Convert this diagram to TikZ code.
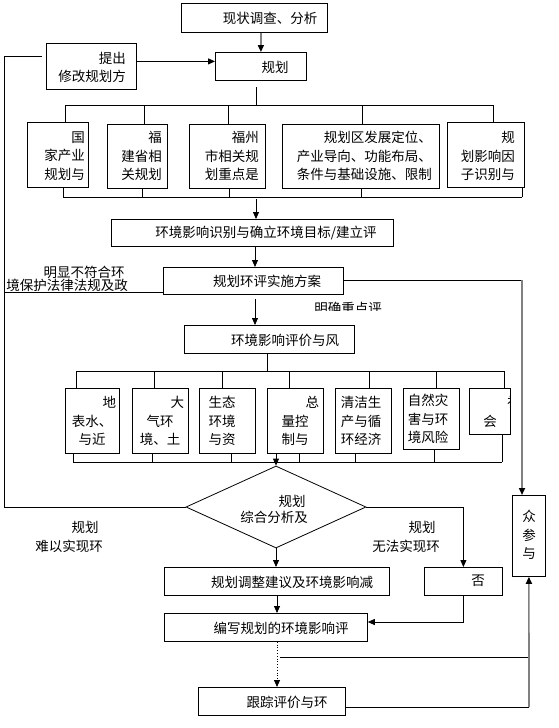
\documentclass[tikz,border=0pt]{standalone}
\usepackage{fontspec}
\newfontfamily\cjk{Noto Sans CJK SC}
\usetikzlibrary{arrows.meta,shapes.geometric}
\newcommand\mybox[5]{\node[box, minimum width=#4pt, minimum height=#5pt] (#1) at (#2,#3) {};}
\tikzset{
 box/.style={draw, line width=0.8pt, inner sep=0pt, anchor=north west},
 txt/.style={font=\cjk\fontsize{13.5}{18.5}\selectfont, inner sep=0pt},
 ln/.style={line width=0.8pt},
 arr/.style={ln, -{Triangle[length=7pt,width=6pt]}},
 garr/.style={line width=1.6pt, draw=black!50, -{Triangle[length=7pt,width=6pt,color=black]}}
}
\begin{document}
\begin{tikzpicture}[x=1pt,y=-1pt]
\useasboundingbox[fill=white] (0,0) rectangle (558,728);
% boxes
\mybox{top}{181}{3}{146}{29}
\mybox{plan}{215}{52}{91}{28}
\mybox{tichu}{46}{43}{90}{46}
\mybox{r1}{27}{122}{61}{65}
\mybox{r2}{107}{124}{60}{64}
\mybox{r3}{189}{124}{76}{64}
\mybox{r4}{282}{124}{157}{64}
\mybox{r5}{447}{122}{77}{65}
\mybox{env}{111}{219}{282}{27}
\mybox{impl}{163}{267}{180}{27}
\mybox{eval}{184}{325}{170}{28}
\mybox{s1}{65}{388}{54}{65}
\mybox{s2}{132}{388}{56}{65}
\mybox{s3}{199}{388}{56}{65}
\mybox{s4}{267}{388}{56}{65}
\mybox{s5}{335}{388}{56}{65}
\mybox{s6}{403}{388}{56}{61}
\mybox{s7}{469}{388}{41}{46}
\node[draw, ln, diamond, minimum width=180pt, minimum height=82pt, inner sep=0pt] (dia) at (276,507) {};
\mybox{adj}{164}{567}{225}{28}
\mybox{no}{424}{567}{78}{28}
\mybox{pp}{512}{495}{33}{81}
\mybox{write}{164}{613}{203}{28}
\mybox{track}{198}{687}{147}{28}
% texts
\node[txt] (t-top) at (270,18) {现状调查、分析};
\node[txt] (t-plan) at (275,67) {规划};
\node[txt, align=right, anchor=east] (t-tichu) at (126,67.5) {提出\\修改规划方};
\node[txt, align=right, anchor=east] (t-r1) at (85,156) {国\\家产业\\规划与};
\node[txt, align=right, anchor=east] (t-r2) at (162,156) {福\\建省相\\关规划};
\node[txt, align=right, anchor=east] (t-r3) at (259,156) {福州\\市相关规\\划重点是};
\node[txt, align=right, anchor=east] (t-r4) at (432,156) {规划区发展定位、\\产业导向、功能布局、\\条件与基础设施、限制};
\node[txt, align=right, anchor=east] (t-r5) at (515,156) {规\\划影响因\\子识别与};
\node[txt] (t-env) at (266,233) {环境影响识别与确立环境目标/建立评};
\node[txt] (t-impl) at (267,281) {规划环评实施方案};
\node[txt] (t-ming1) at (84,272) {明显不符合环};
\node[txt] (t-ming2) at (67,285) {境保护法律法规及政};
\begin{scope}
\clip (300,295) rectangle (400,310.5);
\node[txt] (t-mq) at (348,308.5) {明确重点评};
\end{scope}
\node[txt] (t-eval) at (285,340) {环境影响评价与风};
\node[txt, align=center, text width=48pt] (t-s1) at (92,421) {\makebox[48pt][r]{地}\\表水、\\与近};
\node[txt, align=center, text width=48pt] (t-s2) at (160,421) {\makebox[48pt][r]{大}\\气环\\境、土};
\node[txt, align=center] (t-s3) at (222,421) {生态\\环境\\与资};
\node[txt, align=center, text width=48pt] (t-s4) at (295,421) {\makebox[48pt][r]{总}\\量控\\制与};
\node[txt, align=center] (t-s5) at (361,421) {清洁生\\产与循\\环经济};
\node[txt, align=center] (t-s6) at (428,419) {自然灾\\害与环\\境风险};
\node[txt] (t-s7) at (490,421) {会};
\begin{scope}
\clip (469,388) rectangle (510,434);
\node[txt] (t-s7b) at (514,402) {社};
\end{scope}
\node[txt] (t-d1) at (292,501) {规划};
\begin{scope}
\clip (200,470) rectangle (350,522);
\node[txt] (t-d2) at (274,517.5) {综合分析及};
\end{scope}
\node[txt] (t-l1) at (85,527) {规划};
\node[txt] (t-l2) at (69,546) {难以实现环};
\node[txt] (t-rr1) at (422,527) {规划};
\node[txt] (t-rr2) at (406,546) {无法实现环};
\node[txt] (t-adj) at (292,582) {规划调整建议及环境影响减};
\node[txt] (t-no) at (478,581) {否};
\node[txt, align=center] (t-pp) at (529,535) {众\\参\\与};
\node[txt] (t-write) at (281,628) {编写规划的环境影响评};
\node[txt] (t-track) at (287,702) {跟踪评价与环};
% connectors
\draw[garr] (top.south -| plan.north) -- (plan.north);
\draw[arr] ([yshift=5pt]tichu.east) -- ([yshift=5pt]tichu.east -| plan.west);
\coordinate (lA) at (42,56);
\coordinate (lB) at (4,56);
\draw[ln] (lA) -- (lB) -- (lB |- dia.west) -- (dia.west);
\draw[ln] (256,87) -- (256,105);
\draw[ln] (65,105) -- (493,105);
\foreach \b/\x in {r1/65,r2/144,r3/228,r4/362,r5/493} \draw[ln] (\x,105) -- (\x,105 |- \b.north);
\foreach \b/\x in {r1/63,r2/142,r3/229,r4/361,r5/522} \draw[ln] (\b.south -| \x,0) -- (\x,197);
\draw[ln] (63,197) -- (522,197);
\draw[arr] (256,199) -- (256,199 |- env.north);
\draw[arr] (env.south -| 255,0) -- (impl.north -| 255,0);
\draw[ln] (impl.west |- 0,292) -- (4,292);
\draw[ln] (impl.east |- 0,280) -- (522,280);
\draw[garr] (522,280) -- (522,280 |- pp.north);
\draw[arr] (255,299) -- (255,299 |- eval.north);
\draw[ln] (eval.south -| 267,0) -- (267,371);
\draw[ln] (76,371) -- (504,371);
\foreach \b/\x in {s1/76,s2/154,s3/222,s4/289,s5/369,s6/436,s7/504} \draw[ln] (\x,371) -- (\x,371 |- \b.north);
\foreach \b/\x in {s1/73,s2/152,s3/231,s4/299,s5/355,s6/434,s7/502} \draw[ln] (\b.south -| \x,0) -- (\x,462);
\draw[ln] (73,462) -- (502,462);
\draw[arr] (s4.south -| dia.north) -- (dia.north);
\draw[arr] (dia.south) -- (adj.north -| dia.south);
\draw[arr] (dia.east) -| (no.north);
\draw[arr] (adj.south -| 277,0) -- (write.north -| 277,0);
\draw[arr] (no.south) |- (write.east |- 0,622);
\draw[arr, dotted] (write.south -| 277,0) -- (track.north -| 277,0);
\draw[ln] (280,657) -- (529,657);
\draw[ln] (track.east |- 0,707) -- (529,707);
\draw[garr] (529,707) -- (pp.south);
\end{tikzpicture}
\end{document}
